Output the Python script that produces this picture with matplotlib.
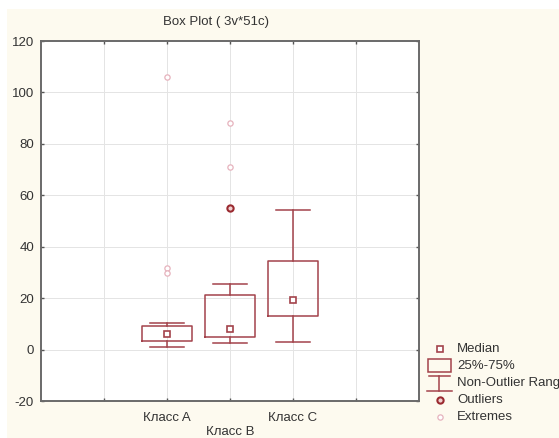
import numpy as np
import matplotlib.pyplot as plt
from matplotlib.patches import Rectangle

plt.rcParams['font.family'] = ['Liberation Sans', 'DejaVu Sans']
plt.rcParams['axes.unicode_minus'] = False

# ── data ─────────────────────────────────────────────────────────────────────
classes   = ["Класс A", "Класс B", "Класс C"]
positions = [2, 3, 4]
q1        = [3.5, 4.8, 12.9]
medians   = [6.2, 8.0, 19.2]
q3        = [9.3, 21.2, 34.5]
whis_lo   = [0.9, 2.4, 3.1]
whis_hi   = [10.3, 25.4, 54.3]
outliers  = {3: [55.2]}
extremes  = {2: [106.0, 31.6, 29.8], 3: [88.0, 71.1]}

yticks = [-20, 0, 20, 40, 60, 80, 100, 120]
xticks = [1, 2, 3, 4, 5]
xtick_labels = ["", "Класс A", "\nКласс B", "Класс C", ""]

box_col = "#a3434b"
ext_col = "#e6b3bd"
cream   = "#fdfaef"

# ── figure ───────────────────────────────────────────────────────────────────
W, H = 559, 438
fig = plt.figure(figsize=(W / 100, H / 100), dpi=100, facecolor="white")
fig.patches.append(Rectangle((7 / W, 0), 1, 1 - 9 / H, transform=fig.transFigure,
                             facecolor=cream, edgecolor="none", zorder=-10))

ax = fig.add_axes([41 / W, 1 - 401 / H, (419 - 41) / W, (401 - 41) / H])
ax.set_facecolor("white")

stats = [dict(q1=a, med=m, q3=b, whislo=lo, whishi=hi, fliers=[])
         for a, m, b, lo, hi in zip(q1, medians, q3, whis_lo, whis_hi)]
line_kw = dict(color=box_col, linewidth=1.1)
ax.bxp(stats, positions=positions, widths=0.8, capwidths=0.55,
       showfliers=False, boxprops=line_kw, whiskerprops=line_kw, capprops=line_kw,
       medianprops=dict(linestyle="none"), manage_ticks=False, zorder=3)

ax.plot(positions, medians, "s", ms=3.8, mfc="white", mec=box_col, mew=1.2,
        linestyle="none", zorder=4)
for pos, vals in outliers.items():
    ax.plot([pos] * len(vals), vals, "o", ms=4.5, mfc="#f0d0d0", mec="#9a2a30",
            mew=1.5, linestyle="none", zorder=4)
for pos, vals in extremes.items():
    ax.plot([pos] * len(vals), vals, "o", ms=3.8, mfc="white", mec=ext_col,
            mew=0.9, linestyle="none", zorder=4)

ax.set_xlim(0, 6)
ax.set_ylim(-20, 120)
ax.set_yticks(yticks)
ax.set_xticks(xticks)
ax.set_xticklabels(xtick_labels, fontsize=9.5, color="#333333")
ax.tick_params(axis="y", labelsize=9.5, labelcolor="#333333")
ax.tick_params(direction="in", length=2.5, width=1, color="#555555",
               top=True, right=True, pad=5)
ax.tick_params(axis="x", pad=8)
ax.grid(True, color="#e4e4e4", linewidth=0.7)
ax.set_axisbelow(True)
for sp in ax.spines.values():
    sp.set_color("#6a6a6a")
    sp.set_linewidth(1.4)

fig.text(216 / W, 1 - 22 / H, "Box Plot ( 3v*51c)", ha="center", va="center",
         fontsize=9.5, color="#333333")

# ── legend, drawn in pixel coordinates ───────────────────────────────────────
lg = fig.add_axes([420 / W, 1 - 428 / H, 139 / W, 88 / H])
lg.set_xlim(420, 559)
lg.set_ylim(428, 340)
lg.axis("off")
lg.plot([440], [349], "s", ms=3.8, mfc="white", mec=box_col, mew=1.2)
lg.add_patch(Rectangle((428, 359), 23, 13, facecolor="none", edgecolor=box_col,
                       linewidth=1.1))
lg.plot([429, 450], [376, 376], color=box_col, lw=1.1)
lg.plot([439.5, 439.5], [376, 391], color=box_col, lw=1.1)
lg.plot([427, 452], [391, 391], color=box_col, lw=1.1)
lg.plot([440], [400], "o", ms=4.5, mfc="#f0d0d0", mec="#9a2a30", mew=1.5)
lg.plot([440], [417], "o", ms=3.8, mfc="white", mec=ext_col, mew=0.9)
labels = ["Median", "25%-75%", "Non-Outlier Range", "Outliers", "Extremes"]
for lab, yy in zip(labels, [349, 366, 383, 400, 417]):
    lg.text(457, yy, lab, va="center", ha="left", fontsize=9.5, color="#333333",
            clip_on=False)

plt.savefig("out.png", dpi=100, facecolor=fig.get_facecolor())
